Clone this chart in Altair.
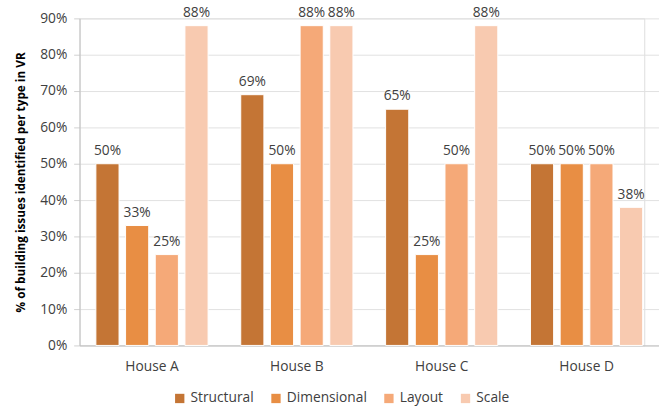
import altair as alt
import pandas as pd

houses = ["House A", "House B", "House C", "House D"]
types = ["Structural", "Dimensional", "Layout", "Scale"]
structural = [0.50, 0.69, 0.65, 0.50]
dimensional = [0.33, 0.50, 0.25, 0.50]
layout = [0.25, 0.88, 0.50, 0.50]
scale = [0.88, 0.88, 0.88, 0.38]
tick_values = [0.0, 0.1, 0.2, 0.3, 0.4, 0.5, 0.6, 0.7, 0.8, 0.9]
colors = ["#C47535", "#E88E44", "#F5A978", "#F8CAB0"]

rows = []
for t, vals in zip(types, [structural, dimensional, layout, scale]):
    for h, v in zip(houses, vals):
        rows.append({"house": h, "type": t, "value": v})
df = pd.DataFrame(rows)

FONT = "Open Sans"

x = alt.X("house:N", sort=houses, title=None,
          scale=alt.Scale(paddingInner=0, paddingOuter=0, range=[0, 590]),
          axis=alt.Axis(labelAngle=0, domain=True, domainColor="#BFBFBF", ticks=False,
                        labelPadding=15, labelFontSize=14, labelColor="#404040", labelFont=FONT))
xo = alt.XOffset("type:N", sort=types,
                 scale=alt.Scale(paddingInner=0.22, paddingOuter=0.55))
y = alt.Y("value:Q", title="% of building issues identified per type in VR",
          scale=alt.Scale(domain=[0, 0.9], nice=False),
          axis=alt.Axis(format=".0%", values=tick_values, labelOverlap=False,
                        domain=True, domainColor="#BFBFBF", ticks=True, tickSize=6,
                        tickColor="#D0D0D0", labelPadding=7,
                        grid=True, gridColor="#E0E0E0", labelFontSize=14, labelColor="#404040",
                        labelFont=FONT, titleFont=FONT, titleFontSize=12, titleFontWeight="bold",
                        titleColor="#000000", titlePadding=12))

color = alt.Color("type:N", sort=types, scale=alt.Scale(domain=types, range=colors),
                  legend=alt.Legend(title=None, orient="none", direction="horizontal",
                                    legendX=95, legendY=380,
                                    symbolType="square", symbolSize=90, symbolStrokeWidth=0,
                                    labelFontSize=14, labelColor="#404040", labelFont=FONT,
                                    labelOffset=4, columnPadding=15))

bars = alt.Chart(df).mark_bar(stroke="white", strokeWidth=1).encode(
    x=x, xOffset=xo, y=y, color=color)

labels = alt.Chart(df).mark_text(dy=-13, fontSize=14, color="#404040", font=FONT).encode(
    x=x, xOffset=xo, y=y, text=alt.Text("value:Q", format=".0%"))

chart = (bars + labels).properties(
    width=575, height=333,
    padding={"left": 15, "top": 2, "right": 0, "bottom": 0},
).configure_view(stroke=None).configure(background="white")

chart.save("out.html", embed_options={"renderer": "svg", "actions": False})
